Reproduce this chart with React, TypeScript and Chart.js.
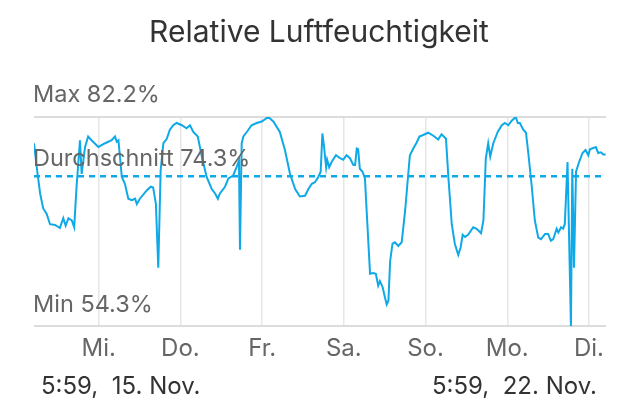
import React, { useEffect, useRef } from "react";
import { Chart, registerables } from "chart.js";

Chart.register(...registerables);

const TITLE = "Relative Luftfeuchtigkeit";
const MAX_VALUE = 82.2;
const MIN_VALUE = 54.3;
const AVG_VALUE = 74.3;
const START_LABEL = "5:59,  15. Nov.";
const END_LABEL = "5:59,  22. Nov.";
const DAY_LABELS = ["Mi.", "Do.", "Fr.", "Sa.", "So.", "Mo.", "Di."];
// hours since start (5:59, 15. Nov.) at which each day tick sits
const DAY_TICK_HOURS = [19, 43, 67, 91, 115, 139, 163];
const TOTAL_HOURS = 168;

// humidity samples: hours since start
const HOURS = [
  0, 0.8, 1.8, 2.7, 3.7, 4.7, 6.2, 7.6, 8.6, 9.3, 10.1, 11.1, 11.8, 12.5, 13.5, 14.0, 15.0, 15.9, 16.9, 18.9,
  20.9, 22.8, 23.8, 24.3, 24.8, 25.8, 26.7, 27.7, 28.7, 29.7, 30.2, 31.1, 33.1, 34.3, 35.0, 35.8, 36.5, 37.2, 38.0, 39.0,
  39.9, 40.9, 41.9, 43.4, 44.8, 45.8, 46.8, 48.1, 49.3, 50.7, 52.2, 53.2, 54.0, 54.6, 56.1, 57.1, 58.5, 59.5, 60.2, 60.5,
  61.0, 61.5, 62.5, 63.9, 65.4, 66.9, 68.8, 70.3, 72.2, 73.7, 75.2, 76.7, 78.1, 79.6, 80.6, 81.6, 82.5, 83.5, 84.2, 84.7,
  85.2, 85.8, 86.1, 86.7, 87.4, 88.7, 89.9, 90.8, 91.8, 92.8, 93.8, 94.3, 94.8, 95.2, 95.7, 96.5, 97.2, 97.7, 98.7, 99.6,
  100.4, 101.1, 101.6, 102.4, 103.1, 103.6, 104.1, 104.6, 105.3, 106.0, 107.0, 108.0, 109.0, 109.6, 110.4, 111.4, 112.4, 113.2, 114.3, 115.8,
  117.3, 118.7, 119.7, 121.0, 121.7, 122.7, 123.6, 124.6, 125.3, 125.9, 126.6, 127.5, 129.0, 130.0, 131.3, 132.0, 132.7, 133.4, 134.0, 134.9,
  136.2, 137.4, 138.3, 139.3, 140.3, 141.5, 142.1, 142.7, 143.7, 144.5, 145.2, 146.2, 147.1, 148.1, 148.9, 150.1, 151.0, 151.8, 152.5, 153.5,
  154.0, 154.8, 155.4, 155.9, 156.7, 157.7, 158.1, 158.6, 159.2, 160.1, 161.1, 162.0, 162.8, 163.3, 165.0, 165.7, 166.5, 167.2, 167.9,
];

// relative humidity in %
const HUMIDITY = [
  78.7, 75.5, 72.0, 70.0, 69.3, 67.9, 67.8, 67.4, 68.7, 67.7, 68.7, 68.4, 67.5, 72.9, 79.1, 74.6, 78.2, 79.6, 79.1, 78.2,
  78.7, 79.1, 79.6, 78.9, 79.1, 74.2, 73.3, 71.3, 71.1, 71.3, 70.6, 71.3, 72.4, 72.9, 72.8, 70.6, 62.1, 75.1, 78.7, 79.3,
  80.5, 81.1, 81.4, 81.1, 80.7, 81.1, 80.2, 79.6, 76.9, 74.2, 72.6, 72.0, 71.3, 72.0, 72.9, 74.0, 74.4, 75.5, 76.4, 64.5,
  78.7, 79.6, 80.2, 81.1, 81.4, 81.6, 82.2, 81.6, 80.2, 77.8, 74.6, 72.6, 71.6, 71.7, 72.6, 73.3, 73.5, 74.2, 74.9, 80.0,
  78.2, 75.5, 76.5, 75.5, 76.2, 77.1, 76.7, 76.5, 77.1, 76.7, 75.8, 75.8, 78.0, 77.9, 75.3, 74.9, 74.0, 69.7, 61.3, 61.4,
  61.3, 59.7, 60.3, 59.5, 58.1, 57.2, 57.7, 63.0, 65.3, 65.5, 65.0, 65.5, 69.7, 72.9, 77.1, 78.0, 78.8, 79.6, 79.8, 80.1,
  79.7, 79.2, 79.9, 79.3, 74.2, 67.9, 65.3, 63.8, 64.8, 66.5, 66.2, 66.5, 67.5, 67.3, 66.7, 68.4, 76.7, 78.7, 76.9, 78.7,
  80.2, 81.1, 81.4, 81.1, 81.7, 82.2, 81.4, 81.4, 80.5, 80.1, 77.3, 72.9, 68.4, 66.1, 65.9, 66.6, 66.6, 65.7, 65.9, 67.3,
  66.8, 67.5, 67.3, 67.9, 76.2, 54.3, 75.3, 62.1, 74.9, 76.2, 77.4, 77.8, 77.1, 77.9, 78.2, 77.4, 77.5, 77.2, 77.2,
];

const LINE_COLOR = "#0ea9e6";
const FONT = "Inter, 'Helvetica Neue', Arial, sans-serif";

export default function App() {
  const canvasRef = useRef<HTMLCanvasElement | null>(null);

  useEffect(() => {
    const canvas = canvasRef.current;
    if (!canvas) return;

    const labelsPlugin = {
      id: "labelsPlugin",
      afterDraw(chart: any) {
        const { ctx, chartArea, scales } = chart;
        const y = scales.y;
        ctx.save();
        ctx.textBaseline = "alphabetic";
        // title
        ctx.fillStyle = "#333333";
        ctx.font = `400 30px ${FONT}`;
        ctx.textAlign = "center";
        ctx.fillText(TITLE, 319, 42);
        // reference labels
        ctx.fillStyle = "#666666";
        ctx.font = `400 23.5px ${FONT}`;
        ctx.textAlign = "left";
        ctx.fillText(`Max ${MAX_VALUE}%`, chartArea.left - 1, y.getPixelForValue(MAX_VALUE) - 15);
        ctx.fillText(`Durchschnitt ${AVG_VALUE}%`, chartArea.left - 1, y.getPixelForValue(AVG_VALUE) - 10);
        ctx.fillText(`Min ${MIN_VALUE}%`, chartArea.left - 1, y.getPixelForValue(MIN_VALUE) - 14);
        // range labels
        ctx.fillStyle = "#333333";
        ctx.font = `400 24px ${FONT}`;
        ctx.fillText(START_LABEL, chartArea.left + 7, 394);
        ctx.textAlign = "right";
        ctx.fillText(END_LABEL, chartArea.right - 9, 394);
        ctx.restore();
      },
    };

    const chart = new Chart(canvas, {
      type: "line",
      data: {
        datasets: [
          {
            data: HOURS.map((h, i) => ({ x: h, y: HUMIDITY[i] })),
            borderColor: LINE_COLOR,
            borderWidth: 2,
            pointRadius: 0,
            tension: 0,
            fill: false,
          },
          {
            data: [
              { x: 0, y: AVG_VALUE },
              { x: TOTAL_HOURS, y: AVG_VALUE },
            ],
            borderColor: LINE_COLOR,
            borderWidth: 2.5,
            borderDash: [6, 5],
            pointRadius: 0,
            fill: false,
          },
        ],
      },
      options: {
        responsive: false,
        animation: false,
        devicePixelRatio: 1,
        layout: { padding: { top: 117, left: 34, right: 34, bottom: 43 } },
        plugins: {
          legend: { display: false },
          title: { display: false },
          tooltip: { enabled: false },
        },
        scales: {
          x: {
            type: "linear",
            min: 0,
            max: TOTAL_HOURS,
            border: { display: false },
            grid: { color: "#e6e6e6", lineWidth: 1.5, drawTicks: false },
            afterBuildTicks: (axis: any) => {
              axis.ticks = DAY_TICK_HOURS.map((v) => ({ value: v }));
            },
            ticks: {
              autoSkip: false,
              maxRotation: 0,
              padding: 8,
              color: "#666666",
              font: { family: FONT, size: 24, lineHeight: 1.2 },
              callback: (_v: any, i: number) => DAY_LABELS[i],
            },
          },
          y: {
            min: MIN_VALUE,
            max: MAX_VALUE,
            border: { display: false },
            grid: { color: "#dcdcdc", lineWidth: 2, drawTicks: false },
            afterBuildTicks: (axis: any) => {
              axis.ticks = [{ value: MIN_VALUE }, { value: MAX_VALUE }];
            },
            afterFit: (axis: any) => {
              axis.width = 0;
            },
            ticks: { display: false },
          },
        },
      },
      plugins: [labelsPlugin],
    });

    return () => chart.destroy();
  }, []);

  return (
    <div style={{ position: "absolute", left: 0, top: 0, width: 640, height: 414, background: "#fff" }}>
      <canvas ref={canvasRef} width={640} height={414} style={{ width: 640, height: 414 }} />
    </div>
  );
}
